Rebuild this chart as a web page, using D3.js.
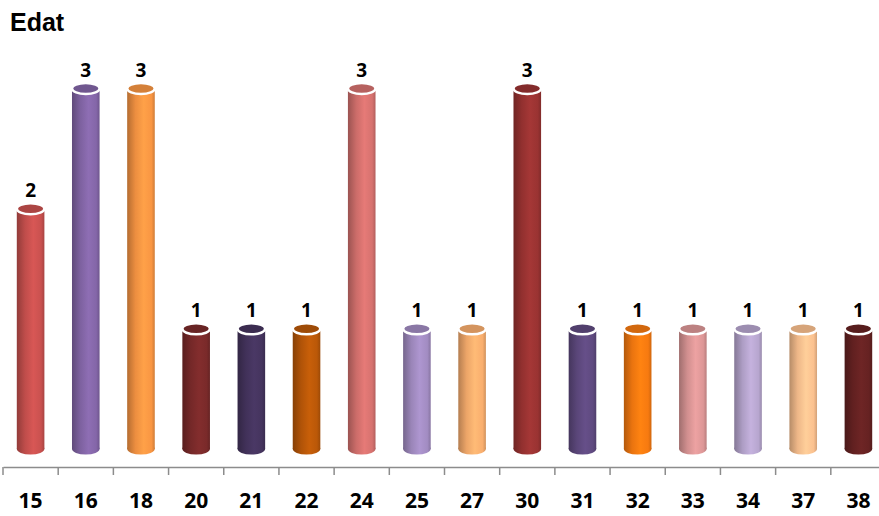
<!DOCTYPE html>
<head>
  <meta charset="utf-8">
  <style>
    body { margin: 0; background: #fff; }
    svg text { font-family: "Open Sans", "Liberation Sans", sans-serif; font-weight: bold; fill: #000; }
    .x-axis .domain { stroke: #8c8c8c; stroke-width: 1.5px; }
    .x-axis text { font-size: 21px; }
  </style>
</head>
<body>
<script src="https://cdn.jsdelivr.net/npm/d3@7"></script>
<script>
  // chart data
  var categories = ["15", "16", "18", "20", "21", "22", "24", "25", "27", "30", "31", "32", "33", "34", "37", "38"];
  var values = [2, 3, 3, 1, 1, 1, 3, 1, 1, 3, 1, 1, 1, 1, 1, 1];
  var colors = ["#C9514F", "#8466A8", "#F99643", "#7A2A2A", "#45345E", "#BA5808",
                "#D6726F", "#A28CC2", "#F9AE6E", "#9A3332", "#5F4A80", "#F77A10",
                "#DD9797", "#B7A6CF", "#FBC18F", "#662222"];

  var width = 879, height = 516;
  var axisY = 467, baseY = 449;

  var svg = d3.select("body").append("svg")
      .attr("width", width)
      .attr("height", height);

  var x = d3.scaleBand().domain(categories).range([3, 886])
      .paddingInner(0.5).paddingOuter(0.25);
  var y = d3.scaleLinear().domain([0, 3]).range([baseY, 88.5]);

  var step = x.step(), bw = x.bandwidth();
  var rx = bw / 2, ry = 5.5;

  // gradients, darker at the edges
  var defs = svg.append("defs");
  categories.forEach(function (c, i) {
    var col = d3.color(colors[i]);
    var g = defs.append("linearGradient").attr("id", "g" + i);
    g.append("stop").attr("offset", "0%").attr("stop-color", col.darker(0.9));
    g.append("stop").attr("offset", "30%").attr("stop-color", col.darker(0.15));
    g.append("stop").attr("offset", "60%").attr("stop-color", col.brighter(0.2));
    g.append("stop").attr("offset", "88%").attr("stop-color", col);
    g.append("stop").attr("offset", "100%").attr("stop-color", col.darker(0.5));
  });

  // title
  svg.append("text")
      .attr("x", 10).attr("y", 31)
      .style("font-family", "'Liberation Sans', Arial, sans-serif")
      .style("font-size", "25px")
      .text("Edat");

  // x axis
  var xAxis = d3.axisBottom(x).tickSize(0).tickPadding(26).tickSizeOuter(0);
  var ax = svg.append("g")
      .classed("x-axis", true)
      .attr("transform", "translate(0," + axisY + ")")
      .call(xAxis);

  // tick marks between categories
  var bounds = categories.map(function (c) { return x(c) - (step - bw) / 2; });
  ax.selectAll("line.sep")
    .data(bounds)
    .enter().append("line")
      .classed("sep", true)
      .attr("x1", function (d) { return d; })
      .attr("x2", function (d) { return d; })
      .attr("y1", 0).attr("y2", 8)
      .style("stroke", "#8c8c8c").style("stroke-width", "1.5px");

  // cylinders
  var bars = svg.selectAll("g.bar")
    .data(values)
    .enter().append("g")
      .classed("bar", true);

  bars.append("ellipse")
      .attr("cx", function (d, i) { return x(categories[i]) + rx; })
      .attr("cy", baseY)
      .attr("rx", rx).attr("ry", ry)
      .style("fill", function (d, i) { return "url(#g" + i + ")"; });

  bars.append("rect")
      .attr("x", function (d, i) { return x(categories[i]); })
      .attr("y", function (d) { return y(d); })
      .attr("width", bw)
      .attr("height", function (d) { return baseY - y(d); })
      .style("fill", function (d, i) { return "url(#g" + i + ")"; });

  bars.append("ellipse")
      .attr("cx", function (d, i) { return x(categories[i]) + rx; })
      .attr("cy", function (d) { return y(d); })
      .attr("rx", rx).attr("ry", ry)
      .style("fill", function (d, i) { return d3.color(colors[i]).darker(0.45); })
      .style("stroke", "#fff")
      .style("stroke-width", "2.5px");

  // value labels
  bars.append("text")
      .attr("x", function (d, i) { return x(categories[i]) + rx; })
      .attr("y", function (d) { return y(d) - 11.5; })
      .attr("text-anchor", "middle")
      .style("font-size", "19px")
      .text(function (d) { return d; });
</script>
</body>
</html>
